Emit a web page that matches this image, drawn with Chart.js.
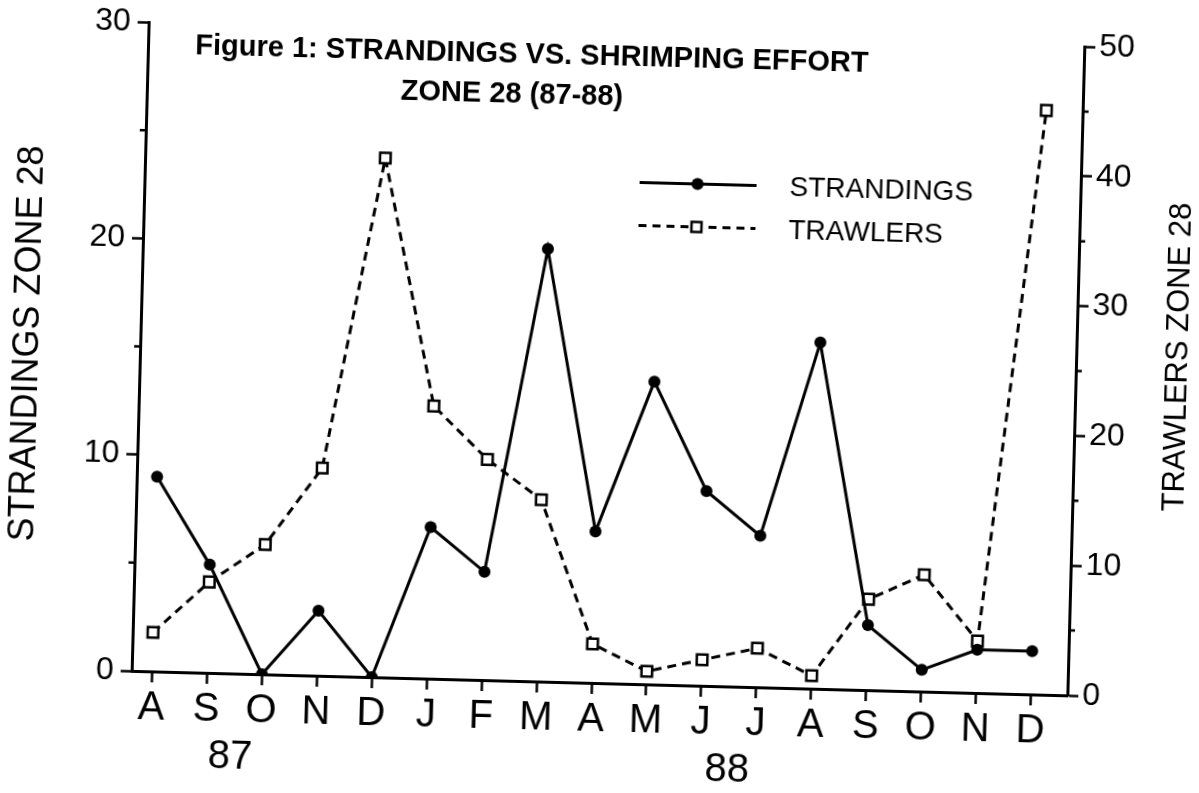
<!DOCTYPE html>
<html>
<head>
<meta charset="utf-8">
<script src="https://cdn.jsdelivr.net/npm/chart.js@4.4.0/dist/chart.umd.min.js"></script>
<style>
  html, body { margin: 0; padding: 0; background: #fff; overflow: hidden; }
  /* the source is a slightly tilted scan */
  #wrap { width: 1199px; height: 793px; transform: rotate(1.5deg); transform-origin: 50% 50%; }
</style>
</head>
<body>
<div id="wrap"><canvas id="chart" width="1199" height="793"></canvas></div>
<script>
const months = ['A', 'S', 'O', 'N', 'D', 'J', 'F', 'M', 'A', 'M', 'J', 'J', 'A', 'S', 'O', 'N', 'D'];
const strandings = [9, 5, 0, 3, 0, 7, 5, 20, 7, 14, 9, 7, 16, 3, 1, 2, 2];
const trawlers = [3, 7, 10, 16, 40, 21, 17, 14, 3, 1, 2, 3, 1, 7, 9, 4, 45];
const years = ['87', '88'];
const yearAt = [1.46, 10.5]; // month index the year label sits under
const leftTicks = [0, 10, 20, 30];
const leftMinor = [5, 15, 25];
const rightTicks = [0, 10, 20, 30, 40, 50];
const rightMinor = [5, 15, 25, 35, 45];
const titleLines = ['Figure 1: STRANDINGS VS. SHRIMPING EFFORT', 'ZONE 28 (87-88)'];

const FONT = "'Liberation Sans', Arial, sans-serif";
const NARROW = "'Liberation Sans Narrow', 'Liberation Sans', Arial, sans-serif";
const X_MIN = -0.37;
const X_MAX = 16.66;

const decor = {
  id: 'decor',
  afterDraw(chart) {
    const { ctx, chartArea } = chart;
    const y = chart.scales.y;
    const y1 = chart.scales.y1;
    ctx.save();
    ctx.strokeStyle = '#000';
    ctx.fillStyle = '#000';
    ctx.lineWidth = 2.5;

    // minor ticks
    ctx.beginPath();
    leftMinor.forEach(v => {
      const py = y.getPixelForValue(v);
      ctx.moveTo(chartArea.left - 6, py);
      ctx.lineTo(chartArea.left, py);
    });
    rightMinor.forEach(v => {
      const py = y1.getPixelForValue(v);
      ctx.moveTo(chartArea.right, py);
      ctx.lineTo(chartArea.right + 6, py);
    });
    ctx.stroke();

    // title
    ctx.textAlign = 'center';
    ctx.textBaseline = 'middle';
    ctx.font = 'bold 29px ' + FONT;
    ctx.fillText(titleLines[0], 523, 57);
    ctx.fillText(titleLines[1], 504, 97);

    // legend
    ctx.font = '28px ' + FONT;
    ctx.textAlign = 'left';
    ctx.lineWidth = 3;
    ctx.beginPath();
    ctx.moveTo(634, 181.5);
    ctx.lineTo(751, 181.5);
    ctx.stroke();
    ctx.beginPath();
    ctx.arc(692, 181.5, 6, 0, Math.PI * 2);
    ctx.fill();
    ctx.fillText(chart.data.datasets[0].label, 784, 183);

    ctx.setLineDash([8, 6]);
    ctx.beginPath();
    ctx.moveTo(634, 224.5);
    ctx.lineTo(751, 224.5);
    ctx.stroke();
    ctx.setLineDash([]);
    ctx.lineWidth = 2.5;
    ctx.fillStyle = '#fff';
    ctx.fillRect(687, 219.5, 10, 10);
    ctx.strokeRect(687, 219.5, 10, 10);
    ctx.fillStyle = '#000';
    ctx.fillText(chart.data.datasets[1].label, 784, 226);

    // right axis title, reads bottom to top
    ctx.translate(1177, 342);
    ctx.rotate(-Math.PI / 2);
    ctx.textAlign = 'center';
    ctx.font = '31px ' + FONT;
    ctx.fillText('TRAWLERS ZONE 28', 0, 0);
    ctx.restore();
  }
};

const axisGrid = {
  display: true,
  drawOnChartArea: false,
  tickLength: 11,
  tickWidth: 2.5,
  tickColor: '#000',
  color: '#000'
};
const axisBorder = { display: true, color: '#000', width: 3 };

new Chart(document.getElementById('chart'), {
  type: 'line',
  data: {
    datasets: [
      {
        label: 'STRANDINGS',
        data: strandings.map((v, i) => ({ x: i, y: v })),
        yAxisID: 'y',
        borderColor: '#000',
        borderWidth: 3,
        pointStyle: 'circle',
        pointRadius: 6,
        pointBackgroundColor: '#000',
        pointBorderWidth: 0,
        tension: 0
      },
      {
        label: 'TRAWLERS',
        data: trawlers.map((v, i) => ({ x: i, y: v })),
        yAxisID: 'y1',
        borderColor: '#000',
        borderWidth: 3,
        borderDash: [9, 6],
        pointStyle: 'rect',
        pointRadius: 7.5,
        pointBackgroundColor: '#fff',
        pointBorderColor: '#000',
        pointBorderWidth: 2.5,
        tension: 0
      }
    ]
  },
  options: {
    responsive: false,
    animation: false,
    layout: { padding: { top: 34, left: 0, right: 0, bottom: 0 } },
    plugins: {
      legend: { display: false },
      tooltip: { enabled: false }
    },
    scales: {
      x: {
        type: 'linear',
        position: 'bottom',
        min: X_MIN,
        max: X_MAX,
        afterBuildTicks: s => { s.ticks = months.map((_, i) => ({ value: i })); },
        afterFit: s => { s.height = 52; },
        ticks: {
          callback: (v, i) => months[i],
          font: { family: NARROW, size: 40 },
          color: '#000',
          padding: 2,
          maxRotation: 0,
          autoSkip: false
        },
        grid: axisGrid,
        border: axisBorder
      },
      xYear: {
        type: 'linear',
        position: 'bottom',
        min: X_MIN,
        max: X_MAX,
        afterBuildTicks: s => { s.ticks = yearAt.map(v => ({ value: v })); },
        afterFit: s => { s.height = 58; },
        ticks: {
          callback: (v, i) => years[i],
          font: { family: NARROW, size: 40 },
          color: '#000',
          padding: 0,
          maxRotation: 0,
          autoSkip: false
        },
        grid: { display: false },
        border: { display: false }
      },
      y: {
        position: 'left',
        min: 0,
        max: 30,
        afterBuildTicks: s => { s.ticks = leftTicks.map(v => ({ value: v })); },
        afterFit: s => { s.width = 139; },
        ticks: { font: { family: NARROW, size: 32 }, color: '#000', padding: 7 },
        grid: axisGrid,
        border: axisBorder,
        title: {
          display: true,
          text: 'STRANDINGS ZONE 28',
          font: { family: FONT, size: 36 },
          color: '#000',
          padding: { top: 5, bottom: 0 }
        }
      },
      y1: {
        position: 'right',
        min: 0,
        max: 50,
        afterBuildTicks: s => { s.ticks = rightTicks.map(v => ({ value: v })); },
        afterFit: s => { s.width = 124; },
        ticks: { font: { family: NARROW, size: 32 }, color: '#000', padding: 4 },
        grid: axisGrid,
        border: axisBorder
      }
    }
  },
  plugins: [decor]
});
</script>
</body>
</html>
